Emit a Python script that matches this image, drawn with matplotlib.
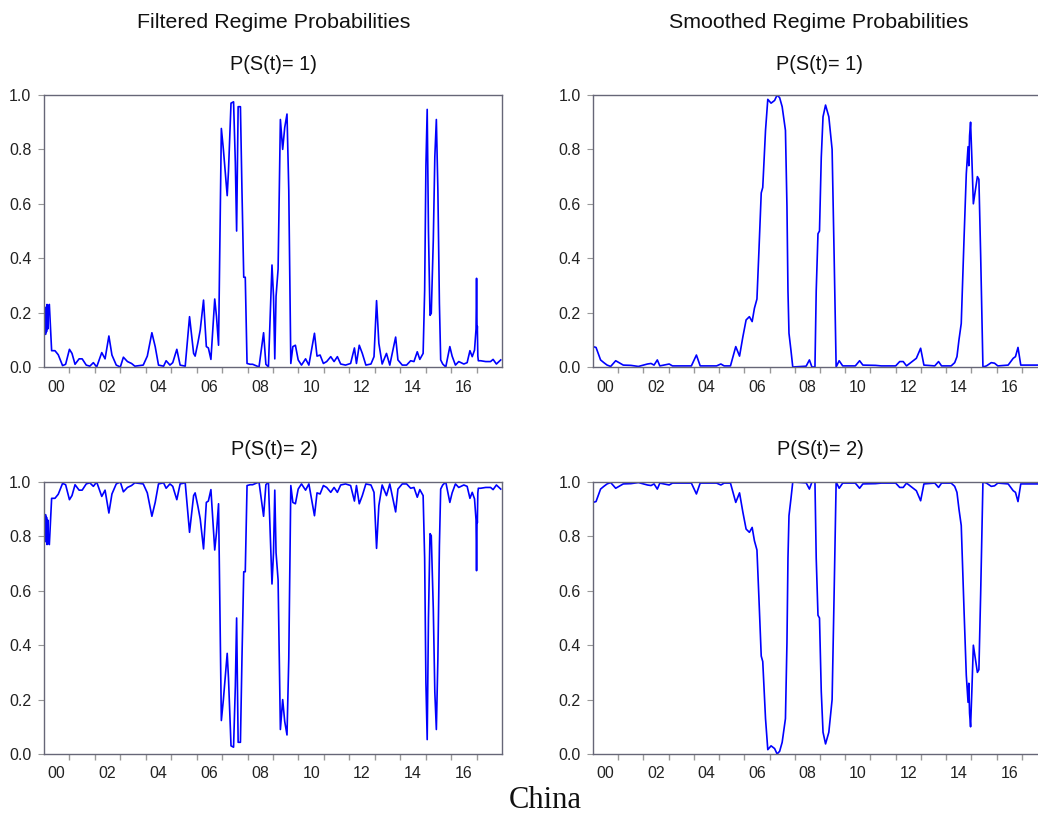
import numpy as np
import matplotlib
matplotlib.use("Agg")
import matplotlib.pyplot as plt
from matplotlib.ticker import FixedLocator, NullFormatter

plt.rcParams['font.family'] = ['Liberation Sans', 'DejaVu Sans']

# Filtered probability of regime 1 (decimal year, probability)
filt_t = [2000.04, 2000.06, 2000.08, 2000.10, 2000.12, 2000.15, 2000.17, 2000.21, 2000.30,
          2000.43, 2000.56, 2000.73, 2000.85, 2001.00, 2001.10, 2001.22, 2001.38, 2001.50,
          2001.66, 2001.80, 2001.94, 2002.07, 2002.27, 2002.40, 2002.55, 2002.67, 2002.84,
          2003.00, 2003.12, 2003.28, 2003.44, 2003.57, 2003.90, 2004.06, 2004.24, 2004.37,
          2004.50, 2004.70, 2004.80, 2004.95, 2005.06, 2005.22, 2005.35, 2005.55, 2005.72,
          2005.88, 2005.94, 2006.05, 2006.14, 2006.27, 2006.38, 2006.46, 2006.56, 2006.71,
          2006.78, 2006.86, 2006.97, 2007.05, 2007.12, 2007.20, 2007.25, 2007.35, 2007.45,
          2007.52, 2007.57, 2007.63, 2007.72, 2007.78, 2007.85, 2007.91, 2007.98, 2008.10,
          2008.20, 2008.45, 2008.63, 2008.72, 2008.82, 2008.96, 2009.02, 2009.07, 2009.12,
          2009.20, 2009.29, 2009.38, 2009.46, 2009.55, 2009.62, 2009.70, 2009.78, 2009.88,
          2009.99, 2010.12, 2010.28, 2010.41, 2010.63, 2010.73, 2010.85, 2010.98, 2011.11,
          2011.27, 2011.40, 2011.53, 2011.66, 2011.85, 2012.05, 2012.20, 2012.28, 2012.39,
          2012.51, 2012.65, 2012.85, 2012.97, 2013.07, 2013.16, 2013.29, 2013.46, 2013.59,
          2013.82, 2013.91, 2014.08, 2014.25, 2014.41, 2014.54, 2014.67, 2014.77, 2014.90,
          2014.96, 2015.01, 2015.06, 2015.11, 2015.17, 2015.22, 2015.30, 2015.36, 2015.42,
          2015.48, 2015.54, 2015.59, 2015.67, 2015.79, 2015.95, 2016.04, 2016.17, 2016.30,
          2016.50, 2016.63, 2016.74, 2016.83, 2016.92, 2016.98, 2017.00, 2017.02, 2017.03,
          2017.05, 2017.07, 2017.16, 2017.36, 2017.55, 2017.65, 2017.78, 2017.95]
filt_p1 = [0.20, 0.12, 0.22, 0.13, 0.23, 0.14, 0.22, 0.23, 0.06,
           0.06, 0.045, 0.005, 0.01, 0.065, 0.05, 0.01, 0.03, 0.03,
           0.007, 0.003, 0.016, 0.0, 0.053, 0.03, 0.114, 0.044, 0.007,
           0.0, 0.036, 0.02, 0.013, 0.003, 0.007, 0.04, 0.126, 0.075,
           0.007, 0.003, 0.023, 0.007, 0.016, 0.065, 0.007, 0.003, 0.185,
           0.05, 0.04, 0.09, 0.136, 0.246, 0.075, 0.07, 0.028, 0.25,
           0.185, 0.08, 0.877, 0.80, 0.72, 0.63, 0.72, 0.97, 0.975,
           0.75, 0.50, 0.957, 0.957, 0.65, 0.33, 0.33, 0.013, 0.01,
           0.01, 0.0, 0.126, 0.01, 0.0, 0.375, 0.26, 0.03, 0.26,
           0.36, 0.91, 0.80, 0.88, 0.93, 0.65, 0.013, 0.075, 0.08,
           0.026, 0.007, 0.03, 0.007, 0.124, 0.04, 0.044, 0.013, 0.02,
           0.038, 0.02, 0.038, 0.011, 0.007, 0.013, 0.07, 0.013, 0.08,
           0.05, 0.007, 0.011, 0.038, 0.244, 0.087, 0.011, 0.05, 0.007,
           0.11, 0.026, 0.007, 0.007, 0.023, 0.02, 0.056, 0.028, 0.05,
           0.28, 0.74, 0.947, 0.50, 0.19, 0.197, 0.467, 0.773, 0.91,
           0.65, 0.234, 0.026, 0.011, 0.0, 0.075, 0.04, 0.007, 0.02,
           0.011, 0.016, 0.06, 0.038, 0.062, 0.14, 0.326, 0.13, 0.15,
           0.04, 0.023, 0.023, 0.02, 0.02, 0.028, 0.011, 0.026]

# Smoothed probability of regime 1 (decimal year, probability)
smooth_t = [2000.00, 2000.12, 2000.30, 2000.43, 2000.56, 2000.70, 2000.90, 2001.05, 2001.20,
            2001.50, 2001.80, 2002.16, 2002.30, 2002.42, 2002.55, 2002.65, 2003.02, 2003.15,
            2003.90, 2004.10, 2004.25, 2004.90, 2005.07, 2005.20, 2005.45, 2005.66, 2005.81,
            2005.94, 2006.07, 2006.20, 2006.31, 2006.40, 2006.50, 2006.58, 2006.67, 2006.73,
            2006.84, 2006.93, 2007.06, 2007.20, 2007.30, 2007.40, 2007.50, 2007.63, 2007.69,
            2007.73, 2007.77, 2007.85, 2007.92, 2008.45, 2008.58, 2008.68, 2008.80, 2008.85,
            2008.92, 2008.98, 2009.05, 2009.12, 2009.22, 2009.35, 2009.48, 2009.56, 2009.64,
            2009.76, 2009.90, 2010.40, 2010.57, 2010.70, 2011.20, 2011.43, 2012.00, 2012.16,
            2012.30, 2012.43, 2012.82, 2012.99, 2013.12, 2013.55, 2013.70, 2013.82, 2014.20,
            2014.34, 2014.43, 2014.51, 2014.60, 2014.71, 2014.80, 2014.87, 2014.90, 2014.93,
            2014.97, 2015.02, 2015.08, 2015.16, 2015.24, 2015.30, 2015.37, 2015.46, 2015.60,
            2015.79, 2015.92, 2016.05, 2016.46, 2016.66, 2016.75, 2016.85, 2016.96, 2017.95]
smooth_p1 = [0.075, 0.072, 0.026, 0.016, 0.007, 0.002, 0.023, 0.015, 0.007,
             0.006, 0.002, 0.011, 0.013, 0.007, 0.026, 0.004, 0.011, 0.004,
             0.004, 0.044, 0.004, 0.004, 0.011, 0.004, 0.004, 0.075, 0.04,
             0.11, 0.173, 0.185, 0.167, 0.216, 0.25, 0.43, 0.64, 0.66,
             0.87, 0.984, 0.97, 0.98, 1.0, 0.99, 0.957, 0.87, 0.59,
             0.28, 0.124, 0.06, 0.0, 0.003, 0.026, 0.0, 0.0, 0.28,
             0.49, 0.50, 0.77, 0.92, 0.963, 0.92, 0.80, 0.41, 0.0,
             0.023, 0.004, 0.004, 0.023, 0.007, 0.006, 0.004, 0.004, 0.02,
             0.02, 0.004, 0.032, 0.069, 0.007, 0.004, 0.02, 0.004, 0.004,
             0.016, 0.038, 0.10, 0.16, 0.47, 0.71, 0.81, 0.74, 0.85,
             0.90, 0.77, 0.60, 0.65, 0.70, 0.69, 0.41, 0.0, 0.004,
             0.016, 0.014, 0.004, 0.007, 0.032, 0.038, 0.072, 0.007, 0.007]

year_ticks = list(range(2001, 2018))
label_pos = [y + 0.5 for y in range(2000, 2018, 2)]
label_txt = ['00', '02', '04', '06', '08', '10', '12', '14', '16']

W, H = 1038, 814
fig = plt.figure(figsize=(W / 100, H / 100), dpi=100)


def panel(x0, y_top, w, h, t, p):
    ax = fig.add_axes([x0 / W, (H - y_top - h) / H, w / W, h / H])
    ax.plot(t, p, color='#0000ff', lw=1.2)
    ax.set_xlim(2000, 2018)
    ax.set_ylim(0, 1)
    ax.set_yticks(np.arange(0, 1.01, 0.2))
    ax.set_yticklabels(['%.1f' % v for v in np.arange(0, 1.01, 0.2)])
    ax.xaxis.set_major_locator(FixedLocator(year_ticks))
    ax.xaxis.set_major_formatter(NullFormatter())
    ax.xaxis.set_minor_locator(FixedLocator(label_pos))
    ax.set_xticklabels(label_txt, minor=True)
    ax.tick_params(axis='x', which='major', direction='out', length=4,
                   color='#999999', width=1)
    ax.tick_params(axis='x', which='minor', length=0, pad=9, labelsize=11.5,
                   labelcolor='#222222')
    ax.tick_params(axis='y', direction='out', length=4, color='#999999',
                   pad=5, labelsize=11.5, labelcolor='#222222')
    for s in ax.spines.values():
        s.set_color('#666677')
        s.set_linewidth(1)
    return ax


panel(44, 95, 458, 272, filt_t, filt_p1)
panel(44, 482, 458, 272, filt_t, 1 - np.array(filt_p1))
panel(593, 95, 454, 272, smooth_t, smooth_p1)
panel(593, 482, 454, 272, smooth_t, 1 - np.array(smooth_p1))

fig.text(274 / W, 1 - 23 / H, 'Filtered Regime Probabilities', ha='center',
         va='center', fontsize=15.4, color='#111111')
fig.text(819 / W, 1 - 23 / H, 'Smoothed Regime Probabilities', ha='center',
         va='center', fontsize=15.4, color='#111111')
fig.text(274 / W, 1 - 64 / H, 'P(S(t)= 1)', ha='center', va='center',
         fontsize=14.3, color='#111111')
fig.text(820 / W, 1 - 64 / H, 'P(S(t)= 1)', ha='center', va='center',
         fontsize=14.3, color='#111111')
fig.text(274 / W, 1 - 449 / H, 'P(S(t)= 2)', ha='center', va='center',
         fontsize=14.3, color='#111111')
fig.text(820 / W, 1 - 449 / H, 'P(S(t)= 2)', ha='center', va='center',
         fontsize=14.3, color='#111111')
fig.text(545 / W, 1 - 800 / H, 'China', ha='center', va='center',
         fontsize=22, family='Liberation Serif', color='#111111')

fig.savefig('out.png', dpi=100)
